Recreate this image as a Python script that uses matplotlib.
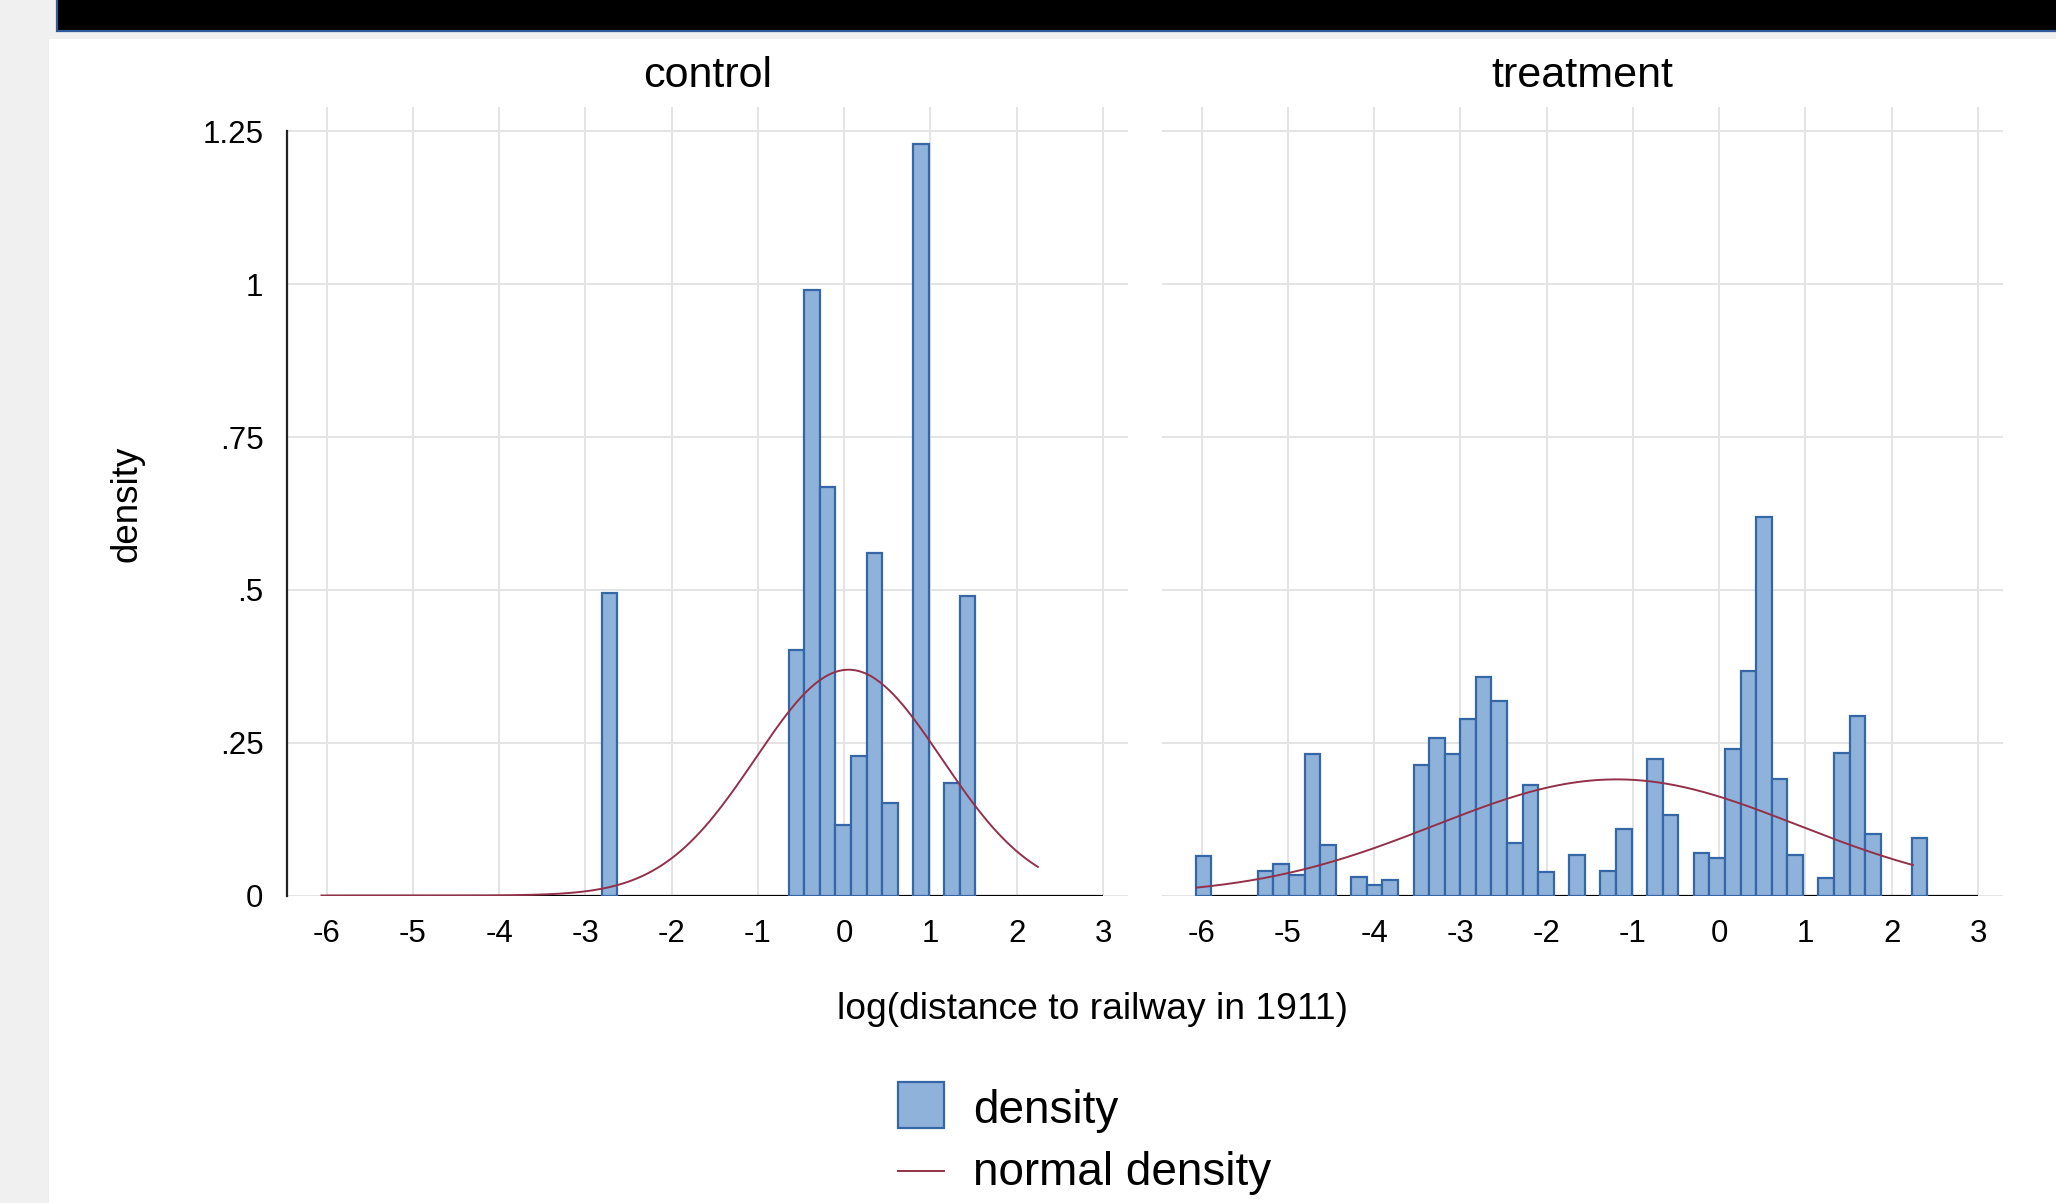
import numpy as np
import matplotlib.pyplot as plt
from matplotlib.patches import Rectangle
from matplotlib.lines import Line2D

plt.rcParams['font.family'] = ['Liberation Sans', 'DejaVu Sans']

# histogram bins (same width in both panels)
bin_width = 0.1805
control_start = -2.81
control_heights = [0.495, 0, 0, 0, 0, 0, 0, 0, 0, 0, 0, 0,
                   0.402, 0.991, 0.668, 0.115, 0.228, 0.560, 0.152, 0,
                   1.230, 0, 0.184, 0.490]
treatment_start = -6.07
treatment_heights = [0.064, 0, 0, 0, 0.040, 0.052, 0.034, 0.231, 0.083, 0,
                     0.030, 0.017, 0.026, 0, 0.214, 0.258, 0.231, 0.288,
                     0.358, 0.319, 0.086, 0.180, 0.039, 0, 0.066, 0, 0.040,
                     0.108, 0, 0.2235, 0.132, 0, 0.069, 0.061, 0.239, 0.367,
                     0.619, 0.190, 0.066, 0, 0.028, 0.233, 0.293, 0.100, 0,
                     0, 0.094]

# normal density overlay parameters
control_mean, control_sd = 0.05, 1.08
treatment_mean, treatment_sd = -1.19, 2.10
curve_from, curve_to = -6.06, 2.245

panel_titles = ["control", "treatment"]
x_ticks = [-6, -5, -4, -3, -2, -1, 0, 1, 2, 3]
y_ticks = [0, 0.25, 0.5, 0.75, 1, 1.25]
y_tick_labels = ["0", ".25", ".5", ".75", "1", "1.25"]

W, H = 2056, 1203
bar_fill = '#8fb2da'
bar_edge = '#3567a6'
curve_color = '#93304a'
grid_color = '#e4e4e4'

fig = plt.figure(figsize=(W / 100, H / 100), dpi=100)
fig.patch.set_facecolor('#f0f0f0')

# white page, black strip on top
fig.add_artist(Rectangle((49 / W, 0), 1, 1 - 39 / H, transform=fig.transFigure,
                         facecolor='white', edgecolor='none', zorder=-10))
fig.add_artist(Rectangle((57 / W, 1 - 31 / H), 1, 0.1, transform=fig.transFigure,
                         facecolor='black', edgecolor='#2f5b9a', linewidth=1.6, zorder=-9))

panels = [
    (control_start, control_heights, control_mean, control_sd),
    (treatment_start, treatment_heights, treatment_mean, treatment_sd),
]
lefts = [287, 1162]
ax_w = 841
ax_top, ax_bot = 107, 895.5

for i, (start, heights, mu, sd) in enumerate(panels):
    ax = fig.add_axes([lefts[i] / W, 1 - ax_bot / H, ax_w / W, (ax_bot - ax_top) / H])
    ax.set_facecolor('none')
    heights = np.array(heights)
    edges = start + np.arange(len(heights)) * bin_width
    keep = heights > 0
    ax.bar(edges[keep], heights[keep], width=bin_width, align='edge',
           color=bar_fill, edgecolor=bar_edge, linewidth=1.6, zorder=3)

    xs = np.linspace(curve_from, curve_to, 300)
    ys = np.exp(-0.5 * ((xs - mu) / sd) ** 2) / (sd * np.sqrt(2 * np.pi))
    ax.plot(xs, ys, color=curve_color, linewidth=1.4, zorder=4)

    ax.hlines(0, -6, 3, color='black', linewidth=1.6, zorder=2)

    ax.set_xlim(-6.46, 3.29)
    ax.set_ylim(0, 1.29)
    ax.set_xticks(x_ticks)
    ax.set_xticklabels([str(t) for t in x_ticks])
    ax.set_yticks(y_ticks)
    ax.grid(color=grid_color, linewidth=1.4, zorder=0)
    ax.set_axisbelow(True)
    for s in ax.spines.values():
        s.set_visible(False)
    ax.tick_params(length=0, labelsize=22.5, pad=17)
    if i == 0:
        ax.set_yticklabels(y_tick_labels)
        ax.spines['left'].set_visible(True)
        ax.spines['left'].set_bounds(0, 1.25)
        ax.spines['left'].set_linewidth(1.6)
        ax.spines['left'].set_color('#222222')
    else:
        ax.tick_params(labelleft=False)

    fig.text((lefts[i] + ax_w / 2) / W, 1 - 87 / H, panel_titles[i],
             ha='center', va='baseline', fontsize=31)

fig.text(127 / W, 1 - 504 / H, 'density', rotation=90, ha='center', va='center', fontsize=26.5)
fig.text(1092 / W, 1 - 1019 / H, 'log(distance to railway in 1911)',
         ha='center', va='baseline', fontsize=26.8)

# legend
fig.add_artist(Rectangle((898 / W, 1 - 1128 / H), 46 / W, 46 / H, transform=fig.transFigure,
                         facecolor=bar_fill, edgecolor=bar_edge, linewidth=1.6))
fig.add_artist(Line2D([898 / W, 944 / W], [1 - 1171 / H, 1 - 1171 / H],
                      transform=fig.transFigure, color=curve_color, linewidth=1.4))
fig.text(973 / W, 1 - 1123 / H, 'density', ha='left', va='baseline', fontsize=33)
fig.text(973 / W, 1 - 1185 / H, 'normal density', ha='left', va='baseline', fontsize=33)

fig.savefig('out.png', dpi=100, facecolor=fig.get_facecolor())
